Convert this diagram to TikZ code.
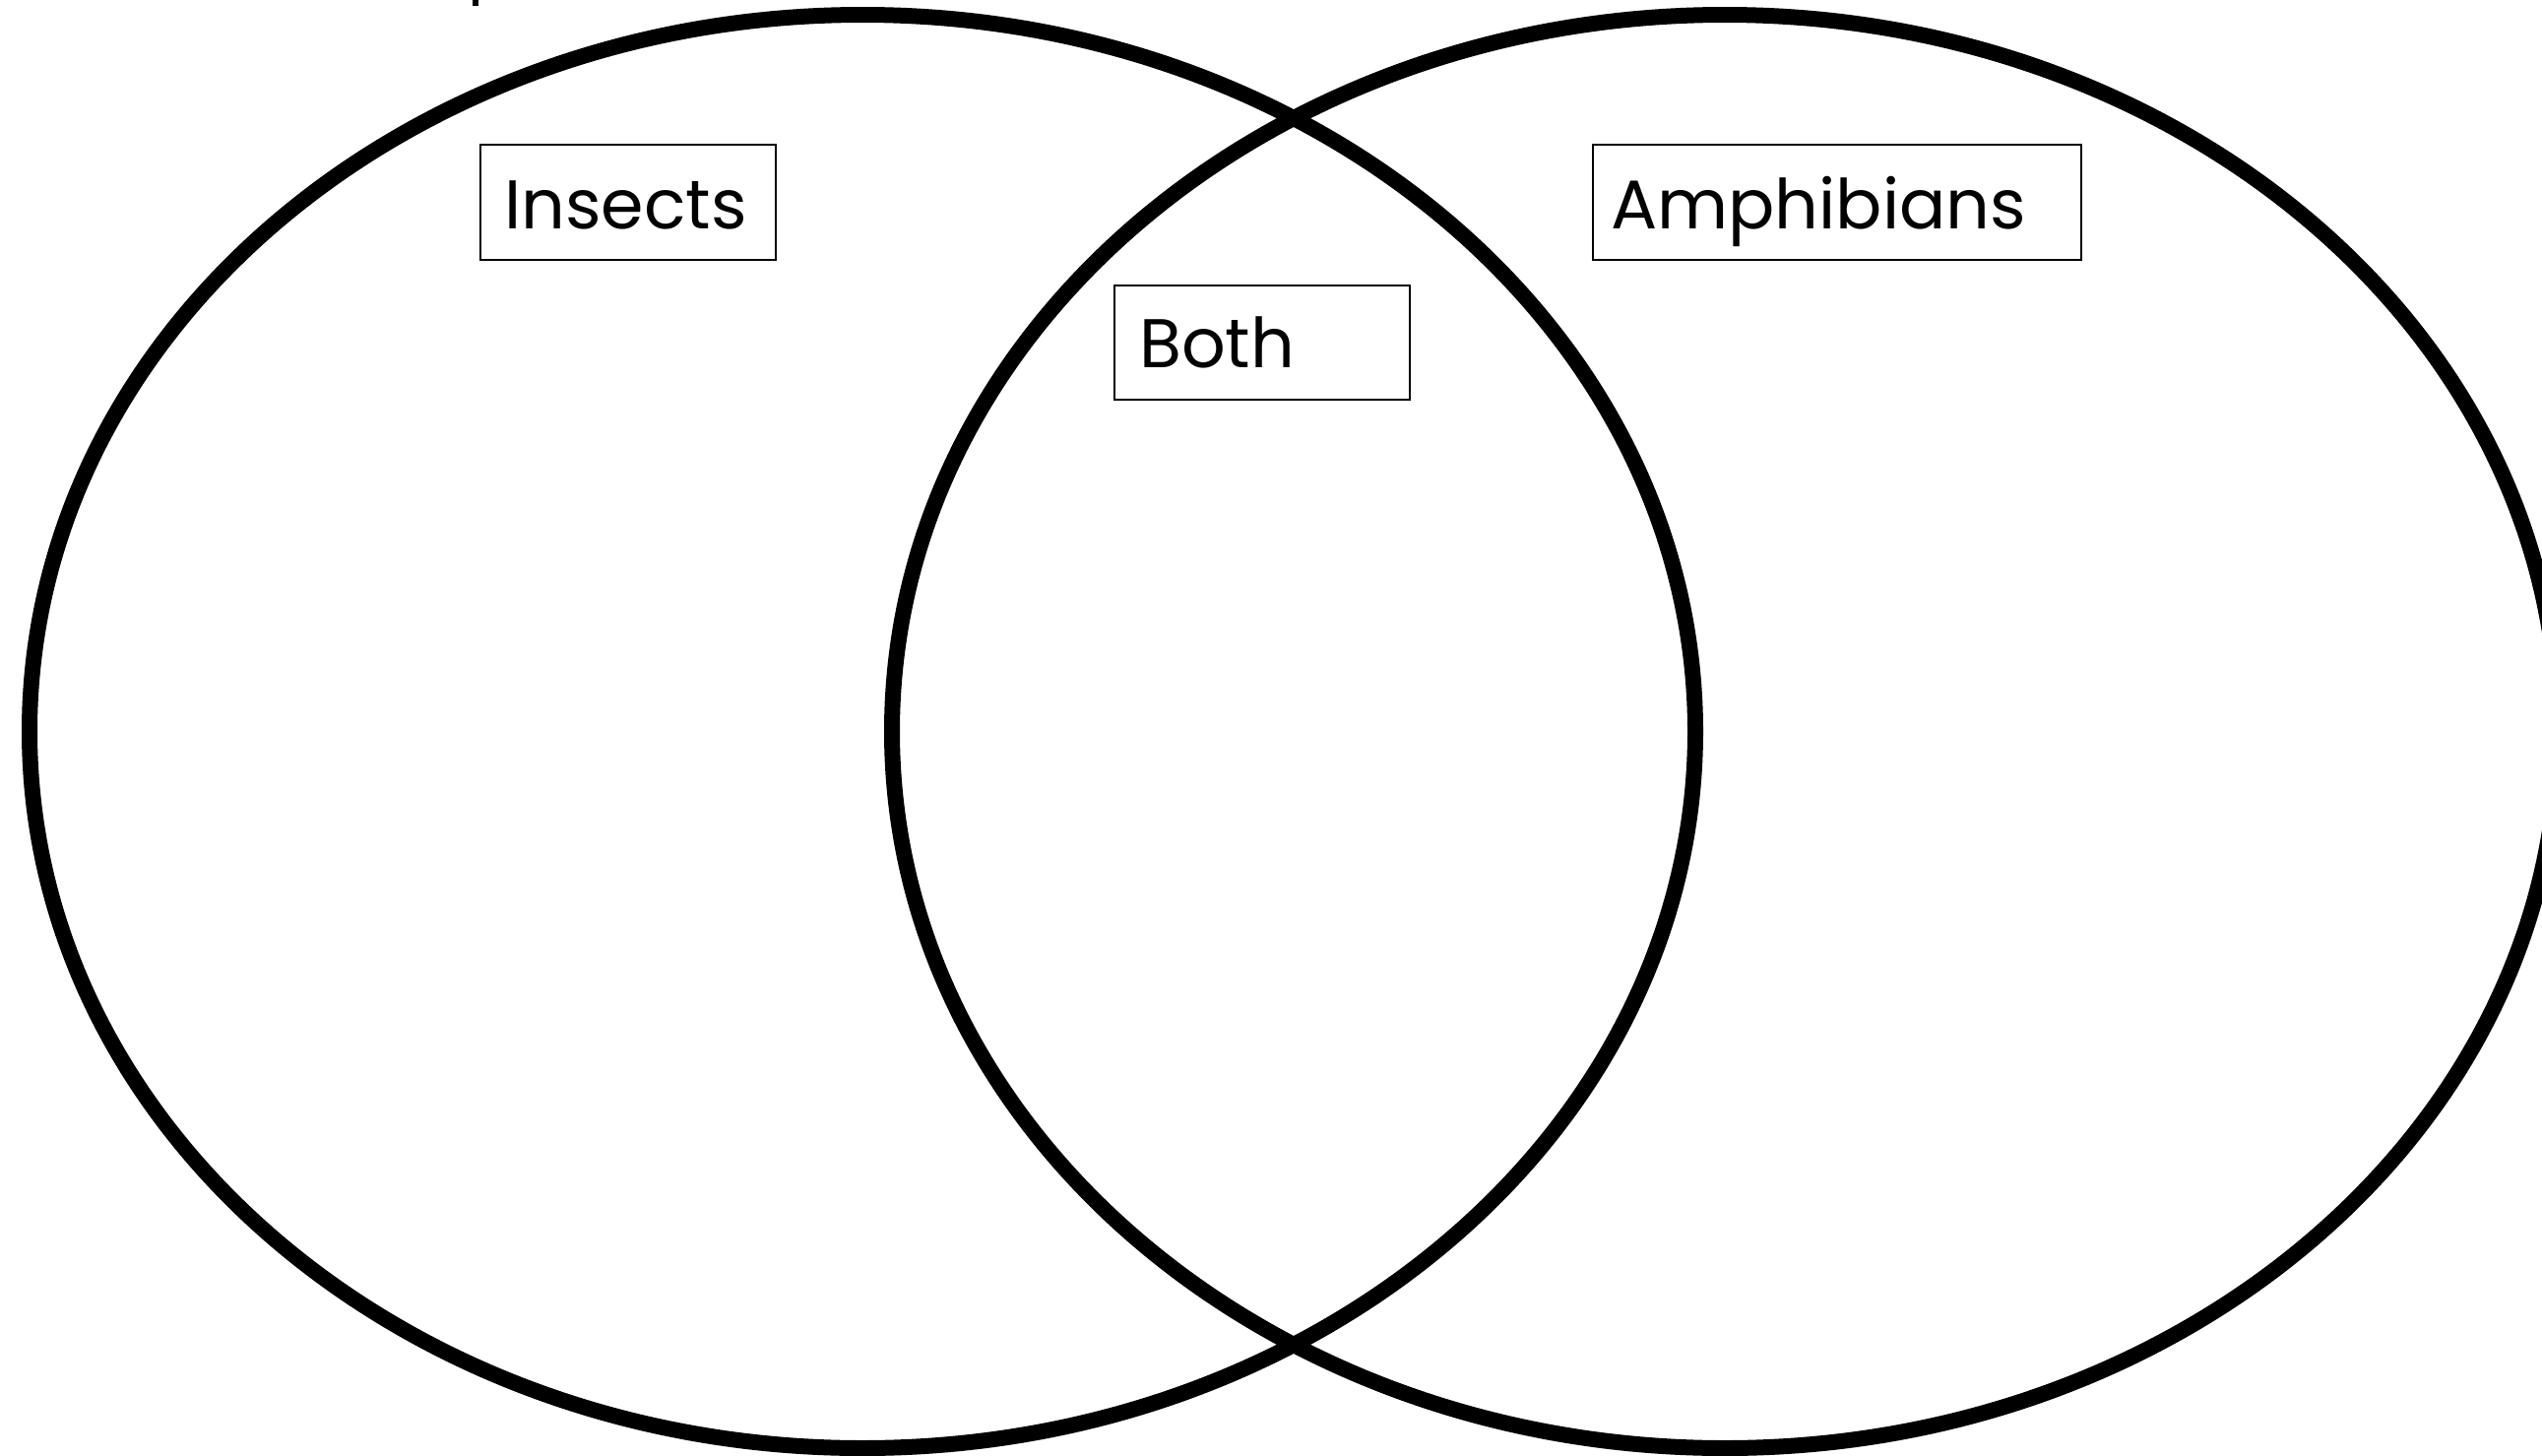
\documentclass[tikz,border=0pt]{standalone}
\usepackage{fontspec}
\setmainfont{Poppins}
\begin{document}
\begin{tikzpicture}[x=1pt,y=-1pt,
  ring/.style={line width=16pt, draw=black},
  labelbox/.style={draw=black, line width=2pt, anchor=north west, inner sep=0pt},
  labeltext/.style={anchor=base west, inner sep=0pt, font=\fontsize{70}{80}\selectfont}]
\useasboundingbox (0,0) rectangle (2582,1478);
\clip (0,0) rectangle (2582,1478);
\fill[white] (0,0) rectangle (2582,1478);
% circles
\draw[ring] (876,743) ellipse [x radius=846pt, y radius=728pt];
\draw[ring] (1752,743) ellipse [x radius=846pt, y radius=728pt];
% fragment at top
\fill[black] (480,0) rectangle (486,6);
% boxes
\node[labelbox, minimum width=300pt, minimum height=117pt] (insectsbox) at (487,146) {};
\node[labeltext] (insects) at (512,232) {Insects};
\node[labelbox, minimum width=300pt, minimum height=116pt] (bothbox) at (1131,289) {};
\node[labeltext] (both) at (1157,373) {Both};
\node[labelbox, minimum width=496pt, minimum height=117pt] (amphbox) at (1617,146) {};
\node[labeltext] (amph) at (1636,232) {Amphibians};
\end{tikzpicture}
\end{document}
